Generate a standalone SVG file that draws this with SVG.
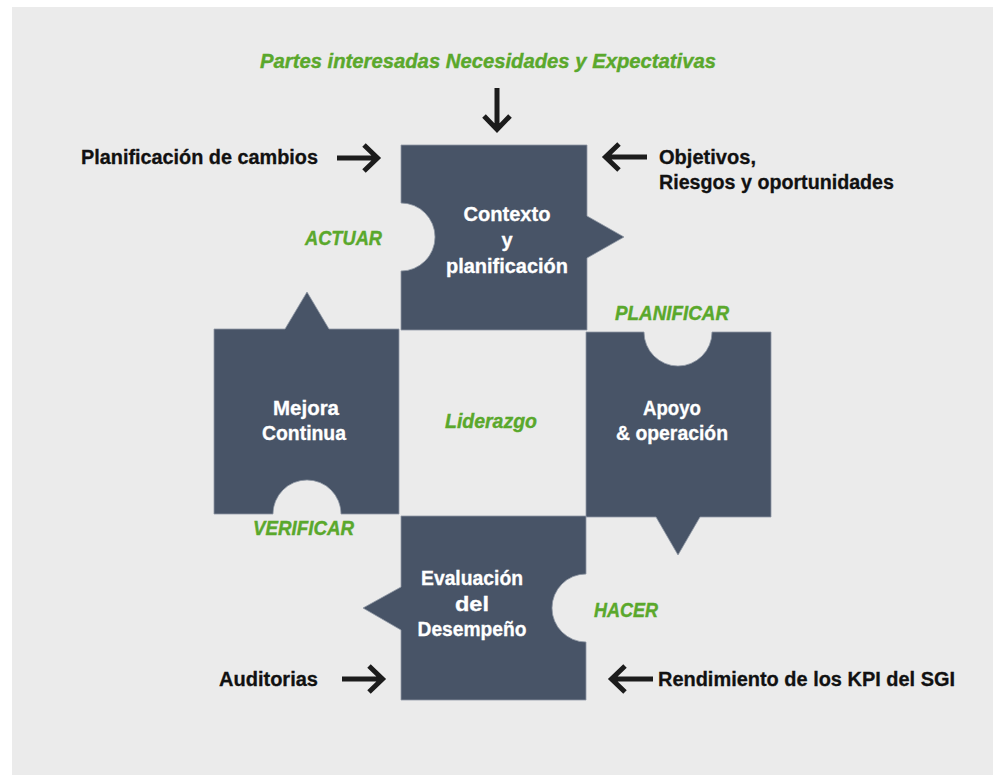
<svg xmlns="http://www.w3.org/2000/svg" width="993" height="775" viewBox="0 0 993 775">
<style>
.piece{fill:#485467;stroke:#8f98a5;stroke-width:0.8}
.wt{fill:#ffffff;stroke:#ffffff;stroke-width:0.3;font-family:"Liberation Sans",Arial,sans-serif;font-weight:bold;font-size:20px;text-anchor:middle}
.bt{fill:#111111;stroke:#111111;stroke-width:0.3;font-family:"Liberation Sans",Arial,sans-serif;font-weight:bold;font-size:20px}
.gt{fill:#5aa82c;stroke:#5aa82c;stroke-width:0.4;font-family:"Liberation Sans",Arial,sans-serif;font-weight:bold;font-style:italic;font-size:21px}
.arr{fill:none;stroke:#1c1c1c;stroke-width:5;stroke-linejoin:miter;stroke-linecap:butt}
</style>
<rect x="0" y="0" width="993" height="775" fill="#ffffff"/>
<rect x="12" y="7" width="981" height="768" fill="#ebebeb"/>

<g id="contexto">
<path class="piece" d="M401,145 H587 V216 L624,237 L587,258 V330 H401 V271 A34,34 0 0 0 401,203 Z"/>
<text class="wt" x="507" y="221" textLength="87" lengthAdjust="spacingAndGlyphs">Contexto</text>
<text class="wt" x="507" y="247">y</text>
<text class="wt" x="507" y="273" textLength="122" lengthAdjust="spacingAndGlyphs">planificación</text>
</g>

<g id="mejora">
<path class="piece" d="M214,329 H285 L307,292 L329,329 H399 V514 H341 A34,34 0 0 0 273,514 H214 Z"/>
<text class="wt" x="306" y="415" textLength="66" lengthAdjust="spacingAndGlyphs">Mejora</text>
<text class="wt" x="304" y="440" textLength="84" lengthAdjust="spacingAndGlyphs">Continua</text>
</g>

<g id="apoyo">
<path class="piece" d="M586,332 H644 A34,34 0 0 0 712,332 H771 V517 H700 L678,555 L656,517 H586 Z"/>
<text class="wt" x="672" y="415" textLength="58" lengthAdjust="spacingAndGlyphs">Apoyo</text>
<text class="wt" x="672" y="440" textLength="112" lengthAdjust="spacingAndGlyphs">&amp; operación</text>
</g>

<g id="evaluacion">
<path class="piece" d="M401,516 H586 V574 A34,34 0 0 0 586,642 V700 H401 V630 L363,608 L401,587 Z"/>
<text class="wt" x="472" y="585" textLength="102" lengthAdjust="spacingAndGlyphs">Evaluación</text>
<text class="wt" x="472" y="611" textLength="34" lengthAdjust="spacingAndGlyphs">del</text>
<text class="wt" x="472" y="636" textLength="109" lengthAdjust="spacingAndGlyphs">Desempeño</text>
</g>

<g id="liderazgo">
<text class="gt" x="445" y="428" textLength="92" lengthAdjust="spacingAndGlyphs">Liderazgo</text>
</g>

<g id="phases">
<text class="gt" x="305" y="245" textLength="77" lengthAdjust="spacingAndGlyphs">ACTUAR</text>
<text class="gt" x="615" y="320" textLength="114" lengthAdjust="spacingAndGlyphs">PLANIFICAR</text>
<text class="gt" x="253" y="535" textLength="101" lengthAdjust="spacingAndGlyphs">VERIFICAR</text>
<text class="gt" x="594" y="617" textLength="64" lengthAdjust="spacingAndGlyphs">HACER</text>
</g>

<g id="inputs">
<text class="gt" x="260" y="68" textLength="456" lengthAdjust="spacingAndGlyphs">Partes interesadas Necesidades y Expectativas</text>
<text class="bt" x="81" y="164" textLength="237" lengthAdjust="spacingAndGlyphs">Planificación de cambios</text>
<text class="bt" x="659" y="164" textLength="97" lengthAdjust="spacingAndGlyphs">Objetivos,</text>
<text class="bt" x="659" y="189" textLength="235" lengthAdjust="spacingAndGlyphs">Riesgos y oportunidades</text>
<text class="bt" x="219" y="686" textLength="99" lengthAdjust="spacingAndGlyphs">Auditorias</text>
<text class="bt" x="658" y="686" textLength="297" lengthAdjust="spacingAndGlyphs">Rendimiento de los KPI del SGI</text>
</g>

<g id="connectors">
<path class="arr" d="M497,88 V128 M484,116 L497,129.5 L510,116"/>
<path class="arr" d="M337,158 H376 M364,145 L377.5,158 L364,171"/>
<path class="arr" d="M647,157 H608 M619,144 L605.5,157 L619,170"/>
<path class="arr" d="M342,679 H381 M369,666 L382.5,679 L369,692"/>
<path class="arr" d="M653,679 H614 M625,666 L611.5,679 L625,692"/>
</g>
</svg>
